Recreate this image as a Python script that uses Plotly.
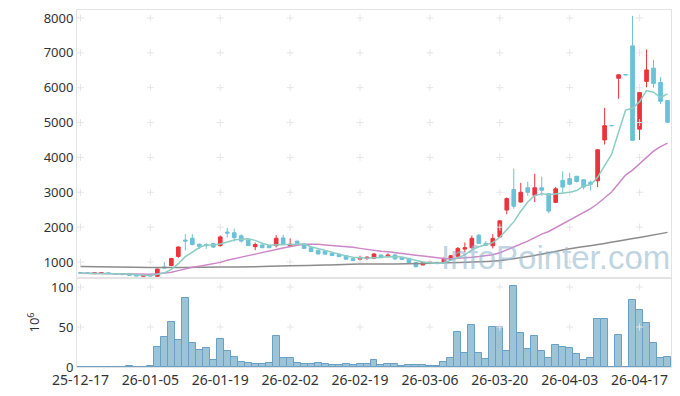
import pandas as pd
import plotly.graph_objects as go
from plotly.subplots import make_subplots

# ---- trading calendar (categories) ----
holidays = ['2025-12-25', '2025-12-31', '2026-01-01', '2026-02-16',
            '2026-02-17', '2026-02-18', '2026-03-02']
days = pd.bdate_range('2025-12-17', '2026-04-23', freq='C', holidays=holidays)
dates = [d.strftime('%y-%m-%d') for d in days]

# ---- OHLC (KRW) ----
opens = [700, 690, 665, 680, 690, 670, 660, 650, 630, 590,
         620, 590, 860, 900, 1160, 1630, 1680, 1510, 1500, 1530,
         1470, 1860, 1840, 1750, 1630, 1440, 1490, 1470, 1470, 1690,
         1460, 1600, 1510, 1410, 1340, 1310, 1250, 1220, 1180, 1095,
         1080, 1100, 1110, 1200, 1150, 1200, 1120, 1105, 990, 915,
         985, 990, 990, 1070, 1165, 1370, 1410, 1770, 1530, 1466,
         1720, 2490, 3080, 2720, 3130, 2910, 3130, 2960, 2710, 3340,
         3390, 3460, 3360, 3290, 3330, 4500, 4915, 6270, 6375, 7200,
         4810, 6180, 6560, 6150, 5630]
highs = [705, 695, 695, 695, 695, 675, 665, 655, 635, 625,
         625, 810, 1000, 1120, 1450, 1800, 1800, 1530, 1540, 1550,
         1760, 1980, 1960, 1790, 1640, 1560, 1500, 1490, 1770, 1780,
         1680, 1610, 1520, 1420, 1350, 1320, 1260, 1225, 1190, 1100,
         1180, 1160, 1260, 1210, 1250, 1240, 1130, 1110, 1000, 1000,
         1030, 1000, 1140, 1200, 1430, 1560, 1760, 1800, 1600, 1800,
         2190, 2850, 3680, 3270, 3300, 3530, 3450, 2970, 3150, 3600,
         3560, 3470, 3370, 3330, 4230, 5420, 4920, 6380, 6380, 8060,
         5860, 7100, 6800, 6300, 5640]
lows = [675, 665, 660, 675, 665, 650, 635, 615, 595, 585,
        595, 570, 820, 880, 1120, 1330, 1480, 1370, 1380, 1400,
        1440, 1700, 1590, 1560, 1460, 1340, 1400, 1400, 1420, 1480,
        1430, 1480, 1380, 1290, 1220, 1220, 1180, 1150, 1070, 1035,
        1035, 1060, 1090, 1120, 1140, 1060, 1060, 975, 840, 905,
        960, 955, 970, 1050, 1130, 1280, 1380, 1530, 1460, 1390,
        1700, 2370, 2530, 2700, 2900, 2720, 2900, 2400, 2690, 2990,
        3200, 3280, 3080, 3050, 3150, 4370, 4910, 5680, 6370, 4480,
        4500, 6010, 6000, 5530, 4990]
closes = [680, 670, 690, 690, 670, 655, 640, 620, 600, 620,
          600, 800, 830, 1100, 1430, 1600, 1500, 1450, 1470, 1430,
          1720, 1830, 1700, 1600, 1470, 1500, 1410, 1410, 1680, 1500,
          1510, 1490, 1390, 1300, 1230, 1225, 1185, 1155, 1080, 1040,
          1110, 1140, 1230, 1125, 1200, 1090, 1070, 980, 866, 990,
          1000, 960, 1080, 1180, 1390, 1410, 1680, 1535, 1477, 1677,
          2180, 2820, 2600, 3000, 3000, 3130, 3057, 2460, 3100, 3150,
          3230, 3310, 3150, 3230, 4220, 4910, 4910, 6370, 6370, 4490,
          5860, 6510, 6120, 5610, 5010]

# ---- volume (10^6 shares) ----
volumes = [0, 0, 0, 0, 0, 0, 0, 1, 0, 0,
           1, 25, 37.5, 56, 34, 86, 30, 21.7, 23.7, 9,
           35, 20.4, 12.5, 6.7, 5, 3.7, 3.7, 5, 38.7, 11.2,
           11.2, 5, 3.7, 3.7, 5, 3.7, 2.5, 2.5, 3.7, 2.5,
           3.7, 3.7, 9, 2.5, 3.7, 3.7, 1.2, 2.5, 2.5, 2.5,
           1.2, 1.2, 6.7, 11.2, 43.7, 17.5, 52.5, 17.5, 10, 50,
           50, 20.4, 101, 42.5, 22.5, 38.7, 20.4, 11.2, 27.5, 25,
           23.7, 16.2, 9, 11.2, 60, 60, 0, 40, 0, 83.7,
           71.2, 55, 30, 11.2, 12.5]

# ---- long moving average (grey line) ----
long_ma_idx = [0, 5, 10, 15, 20, 25, 30, 35, 40, 45, 50, 55, 60, 65, 70, 75, 80, 84]
long_ma_val = [870, 860, 845, 845, 855, 866, 890, 915, 940, 945, 965, 990,
               1045, 1190, 1380, 1530, 1705, 1850]

price_ticks = [1000, 2000, 3000, 4000, 5000, 6000, 7000, 8000]
vol_ticks = [0, 50, 100]
tick_idx = list(range(0, len(dates), 10))

close_s = pd.Series(closes)
ma5 = close_s.rolling(5, min_periods=1).mean().tolist()
ma20 = close_s.rolling(20, min_periods=1).mean().tolist()

UP = 'rgb(234,52,60)'
DOWN = 'rgb(108,192,216)'
FONT = 'Noto Sans'

fig = make_subplots(rows=2, cols=1, shared_xaxes=True, vertical_spacing=0,
                    row_heights=[268 / 357, 89 / 357])

# grid crosses
tick_dates = [dates[i] for i in tick_idx]
gx, gy = [], []
for yv in price_ticks:
    for xd in tick_dates:
        gx.append(xd); gy.append(yv)
fig.add_trace(go.Scatter(x=gx, y=gy, mode='markers', hoverinfo='skip',
                         marker=dict(symbol='cross-thin', size=5,
                                     line=dict(color='#e6e6e6', width=1))),
              row=1, col=1)
gx2, gy2 = [], []
for yv in vol_ticks[1:]:
    for xd in tick_dates:
        gx2.append(xd); gy2.append(yv)
fig.add_trace(go.Scatter(x=gx2, y=gy2, mode='markers', hoverinfo='skip',
                         marker=dict(symbol='cross-thin', size=5,
                                     line=dict(color='#e6e6e6', width=1))),
              row=2, col=1)

fig.add_trace(go.Candlestick(
    x=dates, open=opens, high=highs, low=lows, close=closes,
    increasing=dict(line=dict(color=UP, width=1), fillcolor=UP),
    decreasing=dict(line=dict(color=DOWN, width=1), fillcolor=DOWN),
    whiskerwidth=0), row=1, col=1)

fig.add_trace(go.Scatter(x=[dates[i] for i in long_ma_idx], y=long_ma_val,
                         mode='lines', line=dict(color='rgb(140,140,140)', width=1.5,
                                                 shape='spline')), row=1, col=1)
fig.add_trace(go.Scatter(x=dates, y=ma20, mode='lines',
                         line=dict(color='rgb(205,135,200)', width=1.5)), row=1, col=1)
fig.add_trace(go.Scatter(x=dates, y=ma5, mode='lines',
                         line=dict(color='rgb(140,205,195)', width=1.5)), row=1, col=1)

fig.add_trace(go.Bar(x=dates, y=volumes,
                     marker=dict(color='rgba(145,188,210,0.9)',
                                 line=dict(color='rgb(105,160,198)', width=1))),
              row=2, col=1)

axis_line = '#e3e3e3'
fig.update_xaxes(type='category', categoryorder='array', categoryarray=dates,
                 range=[-0.5, len(dates) - 0.5], showgrid=False, automargin=False,
                 showline=True, mirror=True, linecolor=axis_line, linewidth=1,
                 zeroline=False, rangeslider=dict(visible=False))
fig.update_xaxes(showticklabels=False, row=1, col=1)
fig.update_xaxes(tickmode='array', tickvals=tick_dates, ticktext=tick_dates,
                 ticks='', tickangle=0,
                 tickfont=dict(family=FONT, size=14, color='#333'),
                 row=2, col=1)
fig.update_yaxes(range=[541, 8229], tickvals=price_ticks, showgrid=False,
                 zeroline=False, showline=True, mirror=True, linecolor=axis_line,
                 ticks='', automargin=False,
                 tickfont=dict(family=FONT, size=13, color='#333'),
                 row=1, col=1)
fig.update_yaxes(range=[0, 111.25], tickvals=vol_ticks, showgrid=False,
                 zeroline=False, showline=True, mirror=True, linecolor=axis_line,
                 ticks='', automargin=False,
                 tickfont=dict(family=FONT, size=13, color='#333'),
                 title=dict(text='10<sup>6</sup>', standoff=8,
                            font=dict(family=FONT, size=13, color='#333')),
                 row=2, col=1)

fig.add_annotation(text='InfoPointer.com', xref='paper', yref='paper',
                   x=0.805, y=0.308, xanchor='center', yanchor='middle',
                   showarrow=False,
                   font=dict(family='Liberation Sans', size=33,
                             color='rgba(150,185,205,0.6)'))

# the page body has an 8px margin, so the figure is sized to fit the window
fig.update_layout(width=664, height=380, showlegend=False,
                  margin=dict(l=69, r=1, t=2, b=21),
                  plot_bgcolor='white', paper_bgcolor='white',
                  bargap=0, boxgap=0.25)

fig.write_html('out.html')
